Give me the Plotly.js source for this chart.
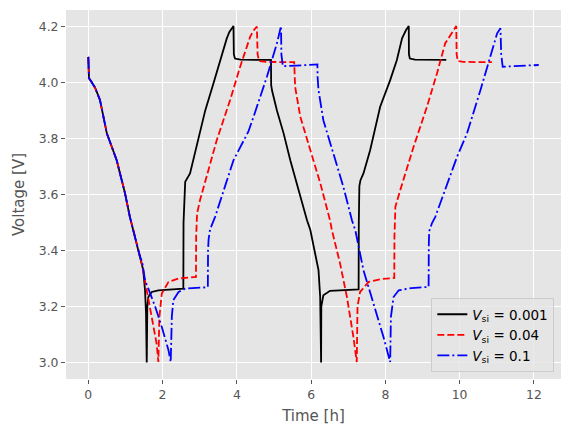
<!DOCTYPE html>
<html>
<head>
<meta charset="utf-8">
<script src="https://cdn.plot.ly/plotly-3.0.1.min.js"></script>
<style>html,body{margin:0;padding:0;background:#fff;}#chart{width:571px;height:436px;}</style>
</head>
<body>
<div id="chart"></div>
<script>
// Vsi = 0.001 (black, solid)
const t1 = [0,0.005,0.02,0.08,0.18,0.315,0.5,0.765,0.99,1.12,1.30,1.39,1.48,1.528,1.555,1.574,1.58,1.59,1.617,1.71,1.887,2.2,2.56,2.565,2.59,2.61,2.74,2.92,3.15,3.37,3.55,3.73,3.80,3.91,3.92,3.95,4.1,4.92,4.925,4.95,5.08,5.26,5.44,5.65,5.89,5.98,6.11,6.2,6.245,6.27,6.275,6.33,6.51,7.28,7.285,7.30,7.33,7.41,7.59,7.86,8.13,8.31,8.45,8.55,8.63,8.635,8.66,8.8,9.64];
const v1 = [4.091,4.04,4.015,4.003,3.982,3.937,3.818,3.722,3.604,3.52,3.42,3.38,3.33,3.258,3.175,3.0,3.15,3.2,3.234,3.252,3.258,3.261,3.264,3.50,3.63,3.645,3.675,3.77,3.90,3.996,4.08,4.157,4.18,4.201,4.10,4.085,4.081,4.08,3.99,3.97,3.90,3.818,3.722,3.62,3.508,3.473,3.389,3.33,3.234,3.0,3.2,3.24,3.256,3.261,3.5,3.63,3.651,3.675,3.758,3.913,4.008,4.08,4.157,4.185,4.201,4.10,4.085,4.081,4.08];
// Vsi = 0.04 (red, dashed)
const t2 = [0,0.005,0.02,0.08,0.18,0.315,0.5,0.765,0.99,1.12,1.30,1.39,1.44,1.53,1.62,1.75,1.84,1.887,1.895,1.914,1.98,2.16,2.43,2.9,2.905,2.93,3.01,3.46,3.82,4.09,4.36,4.45,4.54,4.56,4.6,4.8,5.545,5.56,5.57,5.71,5.98,6.25,6.51,6.56,6.78,6.965,7.14,7.23,7.24,7.25,7.32,7.55,7.9,8.24,8.245,8.27,8.40,8.76,9.12,9.39,9.61,9.80,9.91,9.92,9.95,10.1,10.87];
const v2 = [4.091,4.04,4.015,4.003,3.982,3.937,3.818,3.722,3.604,3.52,3.42,3.38,3.354,3.29,3.234,3.139,3.068,3.002,3.08,3.163,3.246,3.288,3.30,3.306,3.45,3.532,3.58,3.794,3.937,4.056,4.163,4.185,4.199,4.10,4.076,4.073,4.072,4.02,3.984,3.877,3.758,3.639,3.508,3.473,3.354,3.234,3.091,3.002,3.1,3.2,3.252,3.288,3.298,3.302,3.45,3.556,3.615,3.77,3.913,4.032,4.139,4.181,4.201,4.10,4.076,4.073,4.072];
// Vsi = 0.1 (blue, dash-dot)
const t3 = [0,0.005,0.02,0.08,0.18,0.315,0.5,0.765,0.99,1.12,1.30,1.39,1.45,1.528,1.617,1.80,1.98,2.16,2.22,2.235,2.25,2.29,2.43,2.61,3.0,3.22,3.225,3.24,3.28,3.415,3.91,4.0,4.31,4.45,4.81,5.08,5.19,5.2,5.24,5.6,6.17,6.175,6.2,6.33,6.60,6.87,7.10,7.19,7.41,7.68,7.95,8.13,8.14,8.15,8.22,8.36,8.7,9.165,9.17,9.18,9.26,9.345,9.93,10.2,10.56,10.92,11.01,11.10,11.12,11.16,12.13];
const v3 = [4.091,4.04,4.015,4.003,3.982,3.937,3.818,3.722,3.604,3.52,3.42,3.38,3.36,3.294,3.264,3.20,3.127,3.044,3.002,3.08,3.163,3.223,3.252,3.264,3.267,3.269,3.40,3.44,3.475,3.52,3.722,3.746,3.824,3.877,4.02,4.139,4.201,4.10,4.058,4.060,4.064,4.02,3.972,3.865,3.746,3.627,3.508,3.473,3.33,3.211,3.091,3.002,3.08,3.163,3.234,3.258,3.266,3.27,3.42,3.469,3.499,3.52,3.734,3.818,3.972,4.139,4.175,4.193,4.10,4.056,4.062];

const names = ['<i>V</i><sub>si</sub> = 0.001','<i>V</i><sub>si</sub> = 0.04','<i>V</i><sub>si</sub> = 0.1'];
const xTicks = [0,2,4,6,8,10,12];
const yTicks = [3.0,3.2,3.4,3.6,3.8,4.0,4.2];

const data = [
  {x:t1, y:v1, type:'scatter', mode:'lines', name:names[0], line:{color:'#000000', width:1.8}},
  {x:t2, y:v2, type:'scatter', mode:'lines', name:names[1], line:{color:'#FF0000', width:1.8, dash:'7px,3px'}},
  {x:t3, y:v3, type:'scatter', mode:'lines', name:names[2], line:{color:'#0000FF', width:1.8, dash:'12px,3px,2px,3px'}}
];

const layout = {
  width:571, height:436,
  margin:{l:66, r:10.3, t:10, b:57.3},
  paper_bgcolor:'#FFFFFF',
  plot_bgcolor:'#E5E5E5',
  font:{family:'DejaVu Sans, sans-serif', color:'#555555', size:12},
  showlegend:true,
  xaxis:{
    range:[-0.60,12.73], tickvals:xTicks, ticktext:xTicks.map(String),
    showgrid:true, gridcolor:'#FFFFFF', gridwidth:1.1, zeroline:false, showline:false,
    ticks:'outside', ticklen:4, tickwidth:1, tickcolor:'#555555',
    tickfont:{size:12.4, color:'#555555'},
    title:{text:'Time [h]', font:{size:15, color:'#555555'}, standoff:9}
  },
  yaxis:{
    range:[2.9414,4.2583], tickvals:yTicks, ticktext:yTicks.map(v=>v.toFixed(1)),
    showgrid:true, gridcolor:'#FFFFFF', gridwidth:1.1, zeroline:false, showline:false,
    ticks:'outside', ticklen:4, tickwidth:1, tickcolor:'#555555',
    tickfont:{size:12.4, color:'#555555'},
    title:{text:'Voltage [V]', font:{size:15, color:'#555555'}, standoff:10}
  },
  legend:{
    x:0.9865, y:0.019, xanchor:'right', yanchor:'bottom',
    bgcolor:'rgba(229,229,229,0.8)', bordercolor:'#CCCCCC', borderwidth:1,
    font:{size:13.5, color:'#000000'}
  }
};

Plotly.newPlot('chart', data, layout, {displayModeBar:false, staticPlot:true});
</script>
</body>
</html>
